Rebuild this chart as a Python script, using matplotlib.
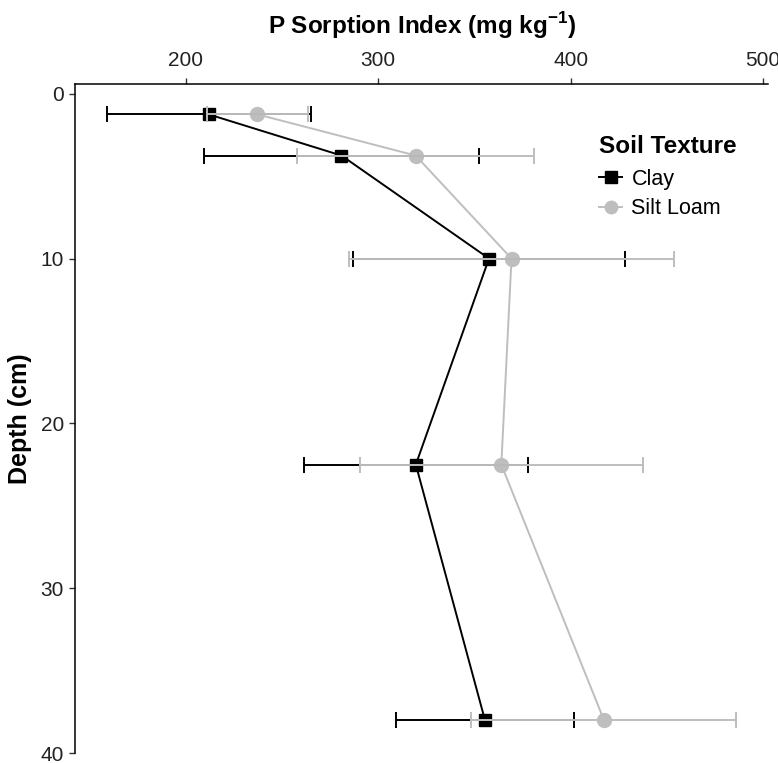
import numpy as np
import matplotlib.pyplot as plt

plt.rcParams.update({
    "font.family": ["Liberation Sans", "DejaVu Sans"],
    "mathtext.fontset": "custom",
    "mathtext.rm": "Liberation Sans",
    "mathtext.bf": "Liberation Sans:bold",
})

# Sampling depth midpoints (cm)
depth = [1.25, 3.75, 10, 22.5, 38]

# P sorption index means and standard errors by soil texture
clay_psi = [212, 281, 357.6, 319.6, 355.5]
clay_se = [53, 71.5, 70.4, 58.3, 46.3]
silt_psi = [237.3, 319.5, 369.3, 364, 417.3]
silt_se = [26.3, 61.5, 84.3, 73.5, 68.8]

BLACK = "black"
GREY = "#bebebe"

fig = plt.figure(figsize=(7.78, 7.63), dpi=100)
ax = fig.add_axes([0.0964, 0.0131, 0.891, 0.877])

# lines first, then the points, error bars on top (silt loam above clay)
ax.plot(clay_psi, depth, color=BLACK, lw=1.4, zorder=2)
ax.plot(silt_psi, depth, color=GREY, lw=1.4, zorder=1)
ax.plot(clay_psi, depth, ls="none", marker="s", ms=9, color=BLACK, zorder=3)
ax.plot(silt_psi, depth, ls="none", marker="o", ms=10, color=GREY, zorder=3)
ax.errorbar(clay_psi, depth, xerr=clay_se, fmt="none", ecolor=BLACK,
            elinewidth=1.4, capsize=6, capthick=1.4, zorder=4)
ax.errorbar(silt_psi, depth, xerr=silt_se, fmt="none", ecolor=GREY,
            elinewidth=1.4, capsize=6, capthick=1.4, zorder=5)

# legend handles: line + marker
h_clay, = ax.plot([], [], color=BLACK, lw=1.4, marker="s", ms=8)
h_silt, = ax.plot([], [], color=GREY, lw=1.4, marker="o", ms=9)
leg = ax.legend([h_clay, h_silt], ["Clay", "Silt Loam"], title="Soil Texture",
                loc="upper left", bbox_to_anchor=(0.74, 0.94), frameon=False,
                borderpad=0, fontsize=15.5,
                title_fontproperties={"weight": "bold", "size": 17.5},
                handlelength=1.1, handletextpad=0.42, labelspacing=0.38)
leg._legend_box.align = "left"
leg._legend_box.sep = 8

ax.set_xlim(142.6, 502.6)
ax.set_ylim(40, -0.6)
ax.set_xticks([200, 300, 400, 500])
ax.set_yticks([0, 10, 20, 30, 40])
ax.xaxis.tick_top()
ax.xaxis.set_label_position("top")
ax.tick_params(axis="both", direction="out", length=4, width=1, labelsize=15,
               colors="#333333", labelcolor="#222222", pad=4)
ax.tick_params(axis="x", pad=6)

ax.spines["right"].set_visible(False)
ax.spines["bottom"].set_visible(False)
for s in ("top", "left"):
    ax.spines[s].set_linewidth(1.1)
    ax.spines[s].set_color("black")

ax.set_xlabel(r"P Sorption Index (mg kg$^{\mathbf{-1}}$)", fontsize=17.5,
              fontweight="bold", labelpad=12)
ax.set_ylabel("Depth (cm)", fontsize=18, fontweight="bold", labelpad=6)

fig.savefig("out.png", dpi=100)
